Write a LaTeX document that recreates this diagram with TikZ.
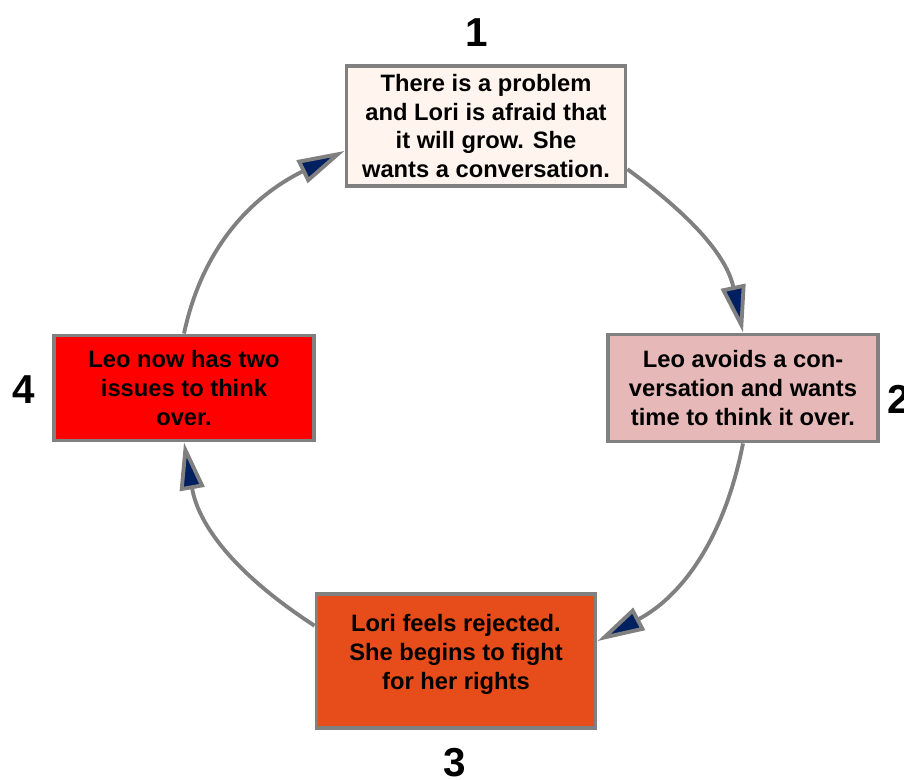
\documentclass[tikz,border=0pt]{standalone}
\usepackage{fontspec}
\setmainfont{Liberation Sans}
\usetikzlibrary{arrows.meta}
\definecolor{boxgray}{RGB}{128,128,128}
\definecolor{tipblue}{RGB}{0,32,96}
\definecolor{paleorange}{RGB}{255,245,238}
\definecolor{palepink}{RGB}{230,184,184}
\definecolor{burntorange}{RGB}{230,77,26}
\definecolor{brightred}{RGB}{255,0,0}
\begin{document}
\begin{tikzpicture}[x=0.02cm,y=0.02cm,
  stepbox/.style={draw=boxgray,line width=2.2pt,align=center,inner sep=0pt,
    font=\fontsize{13.5}{16.4}\selectfont\bfseries},
  cyc/.style={draw=boxgray,line width=2.2pt,looseness=1,
    -{Triangle[length=27pt,width=14pt,fill=tipblue]}},
  num/.style={font=\fontsize{23}{26}\selectfont\bfseries}]
\useasboundingbox (0,0) rectangle (904,780);
% the four steps
\node[stepbox,fill=paleorange,minimum width=5.58cm,minimum height=2.40cm] (one) at (486,654)
  {There is a problem\\and Lori is afraid that\\it will grow. She\\wants a conversation.};
\node[stepbox,fill=palepink,minimum width=5.40cm,minimum height=2.14cm] (two) at (743,392)
  {Leo avoids a con-\\versation and wants\\time to think it over.};
\node[stepbox,fill=burntorange,minimum width=5.58cm,minimum height=2.68cm] (three) at (456,119)
  {Lori feels rejected.\\She begins to fight\\for her rights\\[-6pt]\mbox{}};
\node[stepbox,fill=brightred,minimum width=5.20cm,minimum height=2.10cm] (four) at (184,392)
  {Leo now has two\\issues to think\\over.};
% numbers
\node[num] (n1) at (477,747) {1};
\node[num] (n2) at (899,381) {2};
\node[num] (n3) at (455,17) {3};
\node[num] (n4) at (24,390) {4};
% the cycle
\draw[cyc] (one.-17) to[out=-36,in=102] (two.north);
\draw[cyc] (two.south) to[out=-101,in=28] (three.8);
\draw[cyc] (three.166) to[out=147,in=-80] (four.south);
\draw[cyc] (four.north) to[out=78,in=-154] (one.190);
\end{tikzpicture}
\end{document}
